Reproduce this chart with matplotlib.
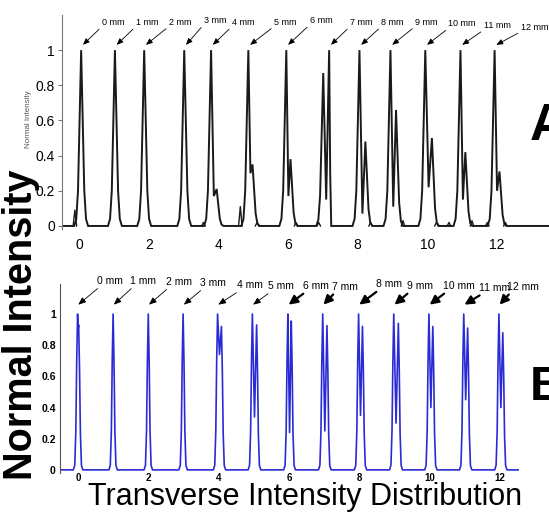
import numpy as np
import matplotlib
matplotlib.use("Agg")
import matplotlib.pyplot as plt
from matplotlib import font_manager

names = set(f.name for f in font_manager.fontManager.ttflist)
NARROW = 'Liberation Sans Narrow' if 'Liberation Sans Narrow' in names else 'Liberation Sans'
plt.rcParams['font.family'] = ['Liberation Sans', 'DejaVu Sans']

# ---- panel A (black): peak centres, side lobe (offset, height), dip between
a_centers = [0.06, 1.03, 1.87, 3.02, 3.79, 4.86, 5.95, 7.18, 8.05, 8.94, 9.94, 10.95, 11.93]
a_lobe_dx = [0, 0, 0, 0, 0.16, 0.12, 0.12, -0.17, 0.17, 0.16, 0.19, 0.14, 0.14]
a_lobe_h = [0, 0, 0, 0, 0.21, 0.35, 0.38, 0.87, 0.48, 0.66, 0.50, 0.42, 0.31]
a_dip = [0, 0, 0, 0, 0.17, 0.30, 0.17, 0.15, 0.07, 0.11, 0.22, 0.15, 0.20]
# single peak flank (offset from top, relative height)
a_flank_dx = [0.05, 0.09, 0.14, 0.20]
a_flank_y = [0.55, 0.20, 0.04, 0.0]
a_bumps_x = [-0.12, 3.57, 4.63, 5.11, 6.23, 6.88, 8.37, 9.30, 10.26, 10.62, 11.28, 11.72, 12.24]
a_bumps_h = [0.09, 0.02, 0.11, 0.02, 0.02, 0.02, 0.02, 0.03, 0.02, 0.02, 0.03, 0.02, 0.02]
a_labels = ['0 mm', '1 mm', '2 mm', '3 mm', '4 mm', '5 mm', '6 mm', '7 mm', '8 mm',
            '9 mm', '10 mm', '11 mm', '12 mm']
a_label_x = [0.98, 1.95, 2.90, 3.90, 4.71, 5.92, 6.95, 8.10, 9.00, 9.97, 11.00, 12.00, 13.07]
a_label_y = [1.16, 1.16, 1.16, 1.17, 1.16, 1.16, 1.17, 1.16, 1.16, 1.16, 1.15, 1.14, 1.13]

# ---- panel B (blue)
b_centers = [-0.01, 1.00, 2.00, 2.99, 3.97, 4.96, 5.97, 6.96, 7.98, 8.98, 9.98, 10.97, 11.97]
b_lobe_dx = [0.03, 0, 0, 0, 0.11, 0.12, 0.095, 0.12, 0.11, 0.13, 0.11, 0.11, 0.11]
b_lobe_h = [0.93, 0, 0, 0, 0.92, 0.93, 0.955, 0.925, 0.92, 0.94, 0.92, 0.91, 0.88]
b_dip = [0.90, 0, 0, 0, 0.74, 0.34, 0.24, 0.25, 0.35, 0.30, 0.40, 0.45, 0.40]
b_flank_dx = [0.025, 0.05, 0.08, 0.12]
b_flank_y = [0.70, 0.25, 0.03, 0.0]
b_labels = a_labels
b_label_x = [0.91, 1.86, 2.87, 3.84, 4.88, 5.77, 6.77, 7.59, 8.85, 9.72, 10.83, 11.86, 12.64]
b_label_y = [1.213, 1.213, 1.207, 1.20, 1.186, 1.18, 1.18, 1.175, 1.192, 1.18, 1.18, 1.169, 1.175]
b_thick = [False] * 6 + [True] * 7

xticks = [0, 2, 4, 6, 8, 10, 12]
yticks = [0, 0.2, 0.4, 0.6, 0.8, 1.0]
yticklabels = ['0', '0.2', '0.4', '0.6', '0.8', '1']


def profile(centers, ldx, lh, dip, fdx, fy, x0, x1):
    xs, ys = [x0], [0.0]
    for c, d, h, g in zip(centers, ldx, lh, dip):
        left = [(c - dx, y) for dx, y in zip(fdx[::-1], fy[::-1])]
        if h == 0:
            pts = left + [(c, 1.0)] + [(c + dx, y) for dx, y in zip(fdx, fy)]
        elif d > 0:
            pts = left + [(c, 1.0), (c + d / 2, g), (c + d, h)] + \
                  [(c + d + dx, y * h) for dx, y in zip(fdx, fy)]
        else:
            pts = [(c + d - dx, y * h) for dx, y in zip(fdx[::-1], fy[::-1])] + \
                  [(c + d, h), (c + d / 2, g), (c, 1.0), (c + 0.03, 0.3), (c + 0.06, 0.0)]
        xs += [p[0] for p in pts]
        ys += [p[1] for p in pts]
    xs.append(x1)
    ys.append(0.0)
    return np.array(xs), np.array(ys)


fig = plt.figure(figsize=(5.49, 5.20), dpi=100)

# panel A
axA = fig.add_axes([0.1129, 0.5587, 0.887, 0.4125])
xA, yA = profile(a_centers, a_lobe_dx, a_lobe_h, a_dip, a_flank_dx, a_flank_y, -0.49, 13.49)
axA.plot(xA, yA, color='#1a1a1a', lw=1.4, solid_joinstyle='miter')
for bx, bh in zip(a_bumps_x, a_bumps_h):
    axA.plot([bx - 0.05, bx, bx + 0.05], [0, bh, 0], color='#1a1a1a', lw=1.0)
axA.set_xlim(-0.49, 13.49)
axA.set_ylim(-0.02, 1.2)
for lab, lx, ly, c in zip(a_labels, a_label_x, a_label_y, a_centers):
    axA.annotate(lab, xy=(c + 0.05, 1.03), xytext=(lx, ly), ha='center', va='center',
                 fontsize=6.5, family=NARROW, annotation_clip=False,
                 arrowprops=dict(arrowstyle='-|>,head_length=0.6,head_width=0.25',
                                 color='black', lw=0.6, relpos=(0.0, 0.0),
                                 shrinkA=0, shrinkB=0))
axA.set_xticks(xticks)
axA.set_yticks(yticks)
axA.set_yticklabels(yticklabels)
axA.tick_params(axis='y', direction='out', length=3, labelsize=10, color='#777777', pad=2)
axA.tick_params(axis='x', direction='in', length=0, labelsize=10, pad=6)
for s in ['top', 'right', 'bottom']:
    axA.spines[s].set_visible(False)
axA.spines['left'].set_color('#777777')

# panel B
axB = fig.add_axes([0.1093, 0.0904, 0.836, 0.3627])
xB, yB = profile(b_centers, b_lobe_dx, b_lobe_h, b_dip, b_flank_dx, b_flank_y, -0.51, 12.54)
axB.plot(xB, yB, color='#2b2bd6', lw=1.2)
axB.set_xlim(-0.51, 12.54)
axB.set_ylim(-0.02, 1.19)
for lab, lx, ly, c, thick in zip(b_labels, b_label_x, b_label_y, b_centers, b_thick):
    if thick:
        style, lw = '-|>,head_length=0.7,head_width=0.35', 1.6
    else:
        style, lw = '-|>,head_length=0.6,head_width=0.25', 0.6
    axB.annotate(lab, xy=(c + 0.02, 1.06), xytext=(lx, ly), ha='center', va='center',
                 fontsize=7.5, family=NARROW, annotation_clip=False,
                 arrowprops=dict(arrowstyle=style, color='black', lw=lw,
                                 relpos=(0.15, 0.0), shrinkA=0, shrinkB=0))
axB.set_xticks(xticks)
axB.set_yticks(yticks)
axB.set_yticklabels(yticklabels)
axB.tick_params(direction='in', length=0, labelsize=7.5, pad=3)
axB.tick_params(axis='x', labelsize=7, pad=0)
for t in axB.get_xticklabels() + axB.get_yticklabels():
    t.set_fontweight('bold')
    t.set_family(NARROW)
for s in ['top', 'right', 'bottom']:
    axB.spines[s].set_visible(False)
axB.spines['left'].set_color('#555555')

# shared labels and panel letters
fig.text(29 / 549, 1 - 119 / 520, 'Normal Intensity', rotation=90, ha='center',
         va='center', fontsize=5.8, color='#555555')
fig.text(21.5 / 549, 1 - 325 / 520, 'Normal Intensity', rotation=90, ha='center',
         va='center', fontsize=28.5, fontweight='bold')
fig.text(305.5 / 549, 1 - 505 / 520, 'Transverse Intensity Distribution', ha='center',
         va='baseline', fontsize=22, family=NARROW)
fig.text(530 / 549, 1 - 140 / 520, 'A', ha='left', va='baseline', fontsize=37,
         fontweight='bold', family=NARROW)
fig.text(530 / 549, 1 - 400 / 520, 'B', ha='left', va='baseline', fontsize=35,
         fontweight='bold', family=NARROW)

fig.savefig('out.png', dpi=100)
